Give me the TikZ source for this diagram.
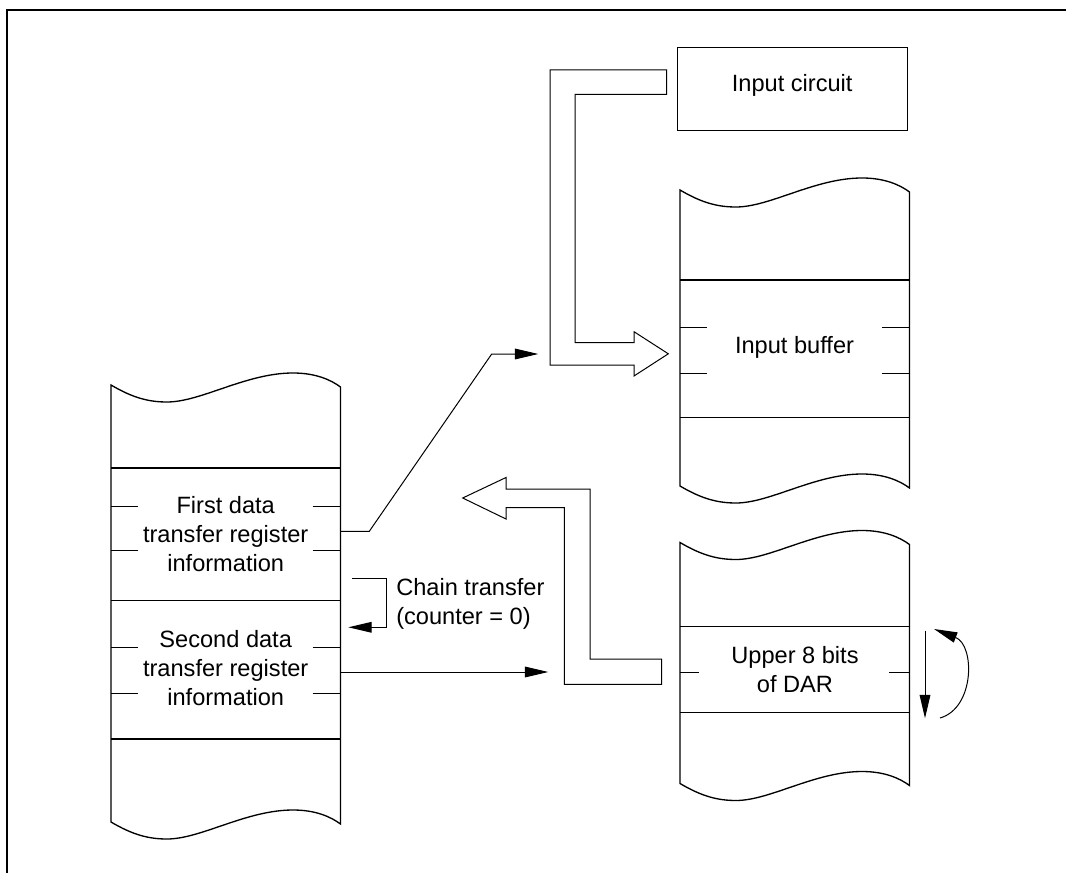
\documentclass[tikz,border=0pt]{standalone}
\usepackage{fontspec}
\setmainfont{Liberation Sans}
\usetikzlibrary{arrows.meta}
% memory stack outline: #1 left x, #2 top-left y, #3 bottom-left y (width 229.5)
\newcommand\memstack[3]{%
  \draw[stackline] (#1,#2)
    .. controls ({#1+22},{#2+13}) and ({#1+38},{#2+17}) .. ({#1+56},{#2+17})
    .. controls ({#1+90},{#2+17}) and ({#1+135},{#2-12}) .. ({#1+182},{#2-12})
    .. controls ({#1+205},{#2-12}) and ({#1+220},{#2-5}) .. ({#1+229.5},{#2+2})
    -- ({#1+229.5},{#3+2})
    .. controls ({#1+220},{#3-5}) and ({#1+205},{#3-12}) .. ({#1+182},{#3-12})
    .. controls ({#1+135},{#3-12}) and ({#1+90},{#3+17}) .. ({#1+56},{#3+17})
    .. controls ({#1+38},{#3+17}) and ({#1+22},{#3+13}) .. (#1,#3) -- cycle;}
\begin{document}
\begin{tikzpicture}[x=0.75pt,y=-0.75pt,
  stackline/.style={line width=1pt,line join=miter},
  thin/.style={line width=0.75pt},
  tip/.style={thin,-{Triangle[length=17.5pt,width=8pt]}},
  hollow/.style={line width=0.75pt,fill=white,line join=miter},
  txt/.style={inner sep=0pt,font=\fontsize{17.7pt}{21.75pt}\selectfont,align=center},
  txtl/.style={inner sep=0pt,font=\fontsize{17.7pt}{21.75pt}\selectfont,align=left}]
\useasboundingbox (0,0) rectangle (1066,873);
% frame
\draw[line width=1.5pt] (1075,10) -- (6.7,10) -- (6.7,880);

% ---------- left stack ----------
\memstack{111}{385}{822}
\foreach \yy in {468,600.7,739} \draw[stackline] (111,\yy) -- (340.5,\yy);
\foreach \yy in {506.7,550.7,647.3,693.3} {
  \draw[thin] (111,\yy) -- (137.7,\yy);
  \draw[thin] (312.7,\yy) -- (340.5,\yy);}
\node[txt] (first) at (225.7,533.9) {First data\\transfer register\\information};
\node[txt] (second) at (225.7,668.2) {Second data\\transfer register\\information};

% ---------- input circuit ----------
\draw[thin] (677.7,48) rectangle (907.3,130.7);
\node[txt] (incirc) at (792.2,85.8) {Input circuit};

% ---------- input buffer stack ----------
\memstack{680}{190}{486}
\foreach \yy in {280,417.7} \draw[stackline] (680,\yy) -- (909.5,\yy);
\foreach \yy in {327.3,373.3} {
  \draw[thin] (680,\yy) -- (706.7,\yy);
  \draw[thin] (882.3,\yy) -- (909.5,\yy);}
\node[txt] (inbuf) at (794.5,347.4) {Input buffer};

% ---------- DAR stack ----------
\memstack{680}{542.5}{783.5}
\foreach \yy in {626.7,712.7} \draw[stackline] (680,\yy) -- (909.5,\yy);
\draw[thin] (680,672) -- (699.3,672);
\draw[thin] (889.3,672) -- (909.5,672);
\node[txt] (dar) at (795,670) {Upper 8 bits\\of DAR};

% ---------- hollow arrows ----------
\draw[hollow] (550,70) -- (666.7,70) -- (666.7,94.3) -- (575,94.3) -- (575,342.7)
  -- (634,342.7) -- (634,331.7) -- (668.3,353.8) -- (634,376) -- (634,365)
  -- (550,365) -- cycle;
\draw[hollow] (462.7,498) -- (506,477.5) -- (506,489) -- (590,489) -- (590,659)
  -- (661.7,659) -- (661.7,684.3) -- (564.3,684.3) -- (564.3,507.7)
  -- (506,507.7) -- (506,519) -- cycle;

% ---------- connectors ----------
\coordinate (a1s) at (340.5,531.3);
\coordinate (a1k) at (369.3,531.3);
\coordinate (a1m) at (491.7,354);
\coordinate (a1t) at (538.3,354);
\draw[tip] (a1s) -- (a1k) -- (a1m) -- (a1t);

\coordinate (a2s) at (340.5,672);
\coordinate (a2t) at (548.3,672);
\draw[tip] (a2s) -- (a2t);

\coordinate (cs) at (352.3,578.3);
\coordinate (c1) at (386,578.3);
\coordinate (c2) at (386,627.3);
\coordinate (ct) at (348.3,627.3);
\draw[tip,line join=miter] (cs) -- (c1) -- (c2) -- (ct);
\node[txtl,anchor=west] (chain) at (396,603.9) {Chain transfer\\(counter = 0)};

\coordinate (ds) at (925,630.7);
\coordinate (dt) at (925,718.3);
\draw[tip] (ds) -- (dt);
\coordinate (rs) at (940,718);
\coordinate (rt) at (934,629);
\draw[tip] (rs) .. controls (975,708) and (975,645) .. (rt);
\end{tikzpicture}
\end{document}
